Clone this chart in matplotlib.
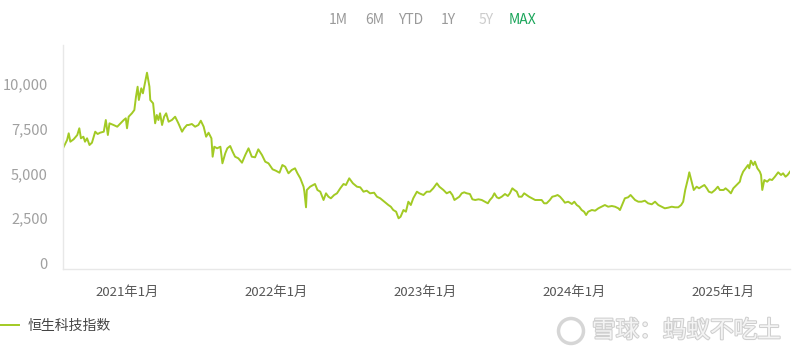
import matplotlib
matplotlib.use("Agg")
import matplotlib.pyplot as plt
import matplotlib.patheffects as pe
from matplotlib.patches import Ellipse
import pandas as pd

plt.rcParams['font.family'] = ['Noto Sans CJK SC', 'DejaVu Sans']

# 恒生科技指数
dates = [
    "2020-07-27", "2020-08-06", "2020-08-10", "2020-08-14", "2020-08-22", "2020-08-31",
    "2020-09-05", "2020-09-09", "2020-09-15", "2020-09-19", "2020-09-24", "2020-09-30",
    "2020-10-06", "2020-10-14", "2020-10-20", "2020-10-26", "2020-11-04", "2020-11-09",
    "2020-11-14", "2020-11-18", "2020-11-28", "2020-12-07", "2020-12-15", "2020-12-23",
    "2020-12-28", "2020-12-31", "2021-01-04", "2021-01-12", "2021-01-18", "2021-01-22",
    "2021-01-26", "2021-01-29", "2021-02-04", "2021-02-08", "2021-02-12", "2021-02-18",
    "2021-02-24", "2021-02-26", "2021-03-05", "2021-03-10", "2021-03-14", "2021-03-18",
    "2021-03-22", "2021-03-27", "2021-04-01", "2021-04-06", "2021-04-12", "2021-04-20",
    "2021-04-28", "2021-05-06", "2021-05-15", "2021-05-20", "2021-05-27", "2021-05-31",
    "2021-06-08", "2021-06-16", "2021-06-24", "2021-06-30", "2021-07-07", "2021-07-13",
    "2021-07-19", "2021-07-26", "2021-07-29", "2021-08-02", "2021-08-09", "2021-08-17",
    "2021-08-22", "2021-08-29", "2021-09-03", "2021-09-10", "2021-09-16", "2021-09-22",
    "2021-09-30", "2021-10-09", "2021-10-17", "2021-10-25", "2021-11-02", "2021-11-10",
    "2021-11-18", "2021-11-27", "2021-12-05", "2021-12-13", "2021-12-23", "2021-12-31",
    "2022-01-09", "2022-01-16", "2022-01-23", "2022-01-31", "2022-02-08", "2022-02-16",
    "2022-02-22", "2022-03-01", "2022-03-09", "2022-03-11", "2022-03-15", "2022-03-17",
    "2022-03-25", "2022-04-06", "2022-04-12", "2022-04-19", "2022-04-27", "2022-05-03",
    "2022-05-09", "2022-05-15", "2022-05-23", "2022-05-30", "2022-06-07", "2022-06-15",
    "2022-06-21", "2022-06-29", "2022-07-08", "2022-07-18", "2022-07-26", "2022-08-03",
    "2022-08-11", "2022-08-19", "2022-08-29", "2022-09-05", "2022-09-13", "2022-09-23",
    "2022-10-03", "2022-10-09", "2022-10-15", "2022-10-22", "2022-10-28", "2022-11-02",
    "2022-11-09", "2022-11-15", "2022-11-21", "2022-11-27", "2022-12-03", "2022-12-12",
    "2022-12-18", "2022-12-28", "2023-01-05", "2023-01-13", "2023-01-21", "2023-01-30",
    "2023-02-05", "2023-02-15", "2023-02-23", "2023-03-03", "2023-03-09", "2023-03-14",
    "2023-03-20", "2023-03-26", "2023-04-01", "2023-04-07", "2023-04-13", "2023-04-21",
    "2023-04-27", "2023-05-04", "2023-05-12", "2023-05-20", "2023-05-28", "2023-06-04",
    "2023-06-09", "2023-06-15", "2023-06-20", "2023-06-26", "2023-07-01", "2023-07-08",
    "2023-07-16", "2023-07-23", "2023-07-28", "2023-08-03", "2023-08-08", "2023-08-14",
    "2023-08-19", "2023-08-26", "2023-09-01", "2023-09-07", "2023-09-13", "2023-09-20",
    "2023-09-28", "2023-10-06", "2023-10-14", "2023-10-20", "2023-10-26", "2023-11-03",
    "2023-11-09", "2023-11-16", "2023-11-22", "2023-11-28", "2023-12-05", "2023-12-10",
    "2023-12-18", "2023-12-27", "2024-01-02", "2024-01-08", "2024-01-14", "2024-01-20",
    "2024-01-26", "2024-01-31", "2024-02-05", "2024-02-14", "2024-02-22", "2024-03-01",
    "2024-03-09", "2024-03-17", "2024-03-25", "2024-04-03", "2024-04-11", "2024-04-19",
    "2024-04-23", "2024-04-30", "2024-05-05", "2024-05-13", "2024-05-19", "2024-05-24",
    "2024-05-30", "2024-06-07", "2024-06-15", "2024-06-23", "2024-07-01", "2024-07-10",
    "2024-07-18", "2024-07-26", "2024-08-03", "2024-08-11", "2024-08-19", "2024-08-28",
    "2024-09-05", "2024-09-13", "2024-09-20", "2024-09-25", "2024-09-30", "2024-10-07",
    "2024-10-10", "2024-10-17", "2024-10-21", "2024-10-28", "2024-11-03", "2024-11-09",
    "2024-11-16", "2024-11-22", "2024-11-27", "2024-12-04", "2024-12-12", "2024-12-19",
    "2024-12-24", "2025-01-02", "2025-01-07", "2025-01-14", "2025-01-20", "2025-01-26",
    "2025-02-03", "2025-02-07", "2025-02-11", "2025-02-14", "2025-02-19", "2025-02-25",
    "2025-03-03", "2025-03-06", "2025-03-10", "2025-03-16", "2025-03-20", "2025-03-26",
    "2025-04-01", "2025-04-04", "2025-04-07", "2025-04-12", "2025-04-19", "2025-04-25",
    "2025-05-01", "2025-05-08", "2025-05-16", "2025-05-23", "2025-05-28", "2025-06-03",
    "2025-06-08", "2025-06-14",
]
values = [
    6408, 6872, 7246, 6777, 6911, 7151,
    7526, 6967, 7056, 6777, 6967, 6593,
    6721, 7336, 7207, 7280, 7336, 7989,
    7151, 7805, 7710, 7615, 7805, 7989,
    8084, 7526, 8174, 8364, 8548, 9291,
    9850, 9107, 9760, 9481, 9945, 10632,
    9850, 9107, 8922, 7805, 8269, 7989,
    8364, 7710, 8174, 8364, 7894, 7989,
    8174, 7805, 7336, 7526, 7710, 7710,
    7766, 7615, 7710, 7950, 7615, 7056,
    7280, 6967, 5939, 6498, 6408, 6498,
    5570, 6129, 6408, 6537, 6218, 5939,
    5850, 5604, 6034, 6408, 5939, 5905,
    6352, 6034, 5660, 5570, 5235, 5157,
    5045, 5475, 5380, 5011, 5196, 5291,
    5011, 4732, 4263, 3984, 3112, 4079,
    4263, 4414, 4079, 3984, 3520, 3894,
    3704, 3615, 3799, 3894, 4173, 4414,
    4358, 4732, 4453, 4263, 4229, 3984,
    4039, 3894, 3928, 3704, 3615, 3425,
    3240, 3145, 2961, 2866, 2497, 2587,
    2961, 2866, 3425, 3240, 3615, 3984,
    3894, 3799, 3984, 3984, 4173, 4453,
    4263, 4079, 3894, 3984, 3799, 3520,
    3615, 3704, 3894, 3950, 3894, 3855,
    3559, 3520, 3559, 3520, 3425, 3335,
    3520, 3671, 3894, 3671, 3615, 3704,
    3855, 3743, 3894, 4173, 4079, 3984,
    3704, 3704, 3894, 3799, 3704, 3615,
    3520, 3520, 3520, 3335, 3335, 3520,
    3704, 3743, 3799, 3704, 3520, 3369,
    3425, 3296, 3425, 3240, 3145, 2961,
    2866, 2682, 2866, 2961, 2922, 3056,
    3145, 3240, 3145, 3185, 3145, 3056,
    2961, 3335, 3615, 3671, 3799, 3671,
    3520, 3425, 3425, 3481, 3335, 3280,
    3425, 3240, 3145, 3056, 3090, 3145,
    3112, 3112, 3240, 3425, 4079, 4732,
    5067, 4453, 4079, 4263, 4173, 4263,
    4358, 4173, 3984, 3928, 4079, 4263,
    4079, 4079, 4173, 4039, 3894, 4173,
    4358, 4453, 4542, 4822, 5101, 5291,
    5475, 5291, 5716, 5475, 5660, 5291,
    5101, 4917, 4079, 4637, 4542, 4676,
    4637, 4822, 5067, 4917, 5011, 4822,
    4917, 5101,
]

y_ticks = [0, 2500, 5000, 7500, 10000]
x_ticks = ["2021-01-01", "2022-01-01", "2023-01-01", "2024-01-01", "2025-01-01"]
x_labels = ["2021年1月", "2022年1月", "2023年1月", "2024年1月", "2025年1月"]
ranges = ["1M", "6M", "YTD", "1Y", "5Y", "MAX"]
range_colors = ["#9a9a9a", "#9a9a9a", "#9a9a9a", "#9a9a9a", "#cccccc", "#1aa55a"]
range_x = [338, 375, 411, 448, 486, 522]

x = pd.to_datetime(dates)

fig = plt.figure(figsize=(8, 3.57), dpi=100)
ax = fig.add_axes([63 / 800, 1 - 269 / 357, (790 - 63) / 800, (269 - 45) / 357])

ax.plot(x, values, color="#a2ca24", linewidth=1.4, label="恒生科技指数")

ax.set_xlim(x[0], x[-1])
ax.set_ylim(-335, 12180)

ax.set_yticks(y_ticks)
ax.set_yticklabels([f"{v:,}" for v in y_ticks])
ax.set_xticks(pd.to_datetime(x_ticks))
ax.set_xticklabels(x_labels)

ax.tick_params(axis="y", length=0, pad=11, labelsize=10.5, labelcolor="#a0a0a0")
ax.tick_params(axis="x", length=0, pad=12, labelsize=9.5, labelcolor="#555555")

for s in ["top", "right"]:
    ax.spines[s].set_visible(False)
for s in ["left", "bottom"]:
    ax.spines[s].set_color("#e8e8e8")
    ax.spines[s].set_linewidth(1)

# range buttons on top
for lab, col, px in zip(ranges, range_colors, range_x):
    fig.text(px / 800, 1 - 20 / 357, lab, color=col, fontsize=10,
             ha="center", va="center")

# legend bottom left
ax.legend(loc="center left", bbox_to_anchor=(0.0, 1 - 326 / 357),
          bbox_transform=fig.transFigure, frameon=False, fontsize=10,
          handlelength=1.4, handletextpad=0.6, labelcolor="#444444",
          borderaxespad=0, borderpad=0)

# watermark
fig.patches.append(Ellipse((571 / 800, 1 - 331 / 357), 25 / 800, 25 / 357,
                           transform=fig.transFigure, fill=False,
                           edgecolor="#d6d6d6", linewidth=2.5))
fig.text(592 / 800, 1 - 331 / 357, "雪球：蚂蚁不吃土", color="#f4f4f4",
         fontsize=17, ha="left", va="center",
         path_effects=[pe.withStroke(linewidth=1.5, foreground="#cfcfcf")])

fig.savefig("out.png", dpi=100)
